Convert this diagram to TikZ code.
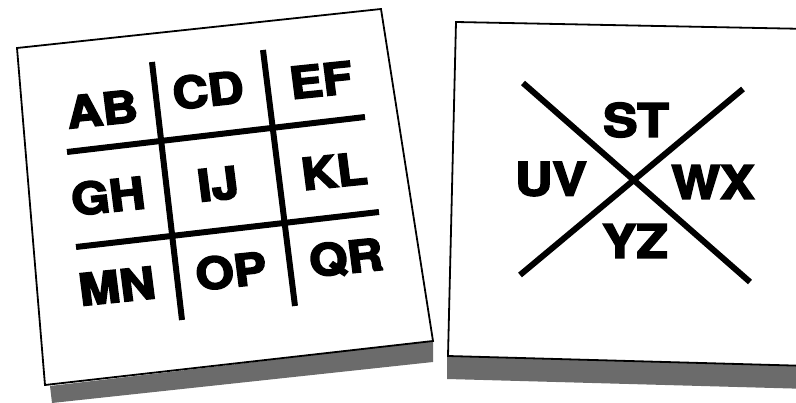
\documentclass[tikz,border=0pt]{standalone}
\usepackage{fontspec}
\setmainfont{TeX Gyre Heros}
\newcommand{\heavytext}[1]{\special{pdf:literal direct 2 Tr 1.6 w 0 0 0 RG}#1\special{pdf:literal direct 0 Tr}}
\begin{document}
\begin{tikzpicture}[x=1pt,y=-1pt,
  card/.style={draw=black, line width=1.8pt, fill=white, line join=miter},
  shadowband/.style={fill=black!58},
  rule/.style={line width=6pt},
  lbl/.style={font=\fontsize{44}{44}\selectfont\bfseries, inner sep=0pt, xscale=1.12},
]
\useasboundingbox (0,0) rectangle (796,403);
% left card
\fill[shadowband] (50,386) -- (433,341) -- (433,362) -- (52,403) -- cycle;
\draw[card] (17,48) -- (381,9) -- (433,341) -- (45,385) -- cycle;
\coordinate (v1a) at (152,62);  \coordinate (v1b) at (182,320);
\coordinate (v2a) at (263,50);  \coordinate (v2b) at (295,306);
\coordinate (h1a) at (67,152);  \coordinate (h1b) at (365,117);
\coordinate (h2a) at (76,247);  \coordinate (h2b) at (379,212);
\draw[rule] (v1a) -- (v1b);
\draw[rule] (v2a) -- (v2b);
\draw[rule] (h1a) -- (h1b);
\draw[rule] (h2a) -- (h2b);
\begin{scope}[every node/.style={lbl, rotate=6.5}]
\node (ab) at (102,109) {\heavytext{AB}};
\node (cd) at (208,90) {\heavytext{CD}};
\node (ef) at (321,80) {\heavytext{EF}};
\node (gh) at (108,196) {\heavytext{GH}};
\node (ij) at (218,184) {\heavytext{IJ}};
\node (kl) at (334,171) {\heavytext{KL}};
\node (mn) at (117,286) {\heavytext{MN}};
\node (op) at (231,271) {\heavytext{OP}};
\node (qr) at (346,258) {\heavytext{QR}};
\end{scope}
% right card
\begin{scope}
\clip (0,0) rectangle (796,403);
\fill[shadowband] (447,356) -- (810,366) -- (810,389) -- (447,379) -- cycle;
\draw[card] (456,22) -- (810,29) -- (810,366) -- (448,356) -- cycle;
\end{scope}
\coordinate (x1a) at (523,83);  \coordinate (x1b) at (750,282);
\coordinate (x2a) at (743,89);  \coordinate (x2b) at (520,275);
\draw[rule] (x1a) -- (x1b);
\draw[rule] (x2a) -- (x2b);
\begin{scope}[every node/.style={lbl, font=\fontsize{46}{46}\selectfont\bfseries}]
\node (st) at (636,120) {\heavytext{ST}};
\node (uv) at (551,179) {\heavytext{UV}};
\node (wx) at (713,182) {\heavytext{WX}};
\node (yz) at (635,241) {\heavytext{YZ}};
\end{scope}
\end{tikzpicture}
\end{document}
